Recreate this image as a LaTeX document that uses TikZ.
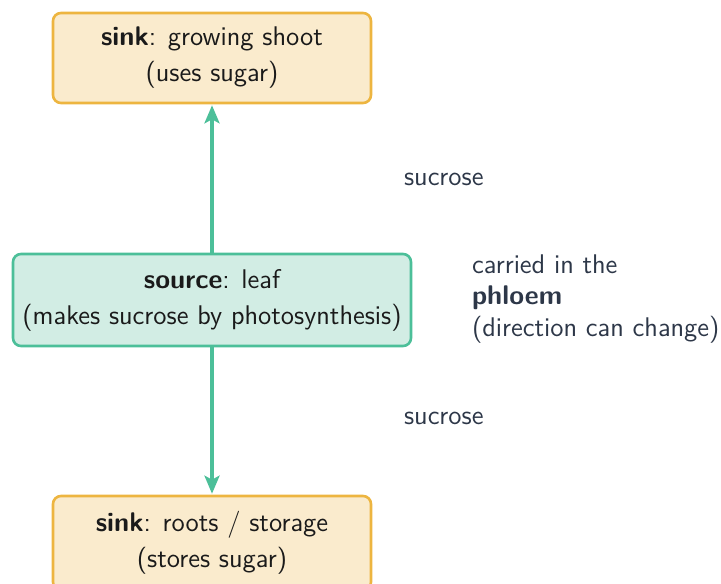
\documentclass[tikz,border=0pt]{standalone}
\usetikzlibrary{arrows.meta}
\definecolor{sinkfill}{HTML}{FAEBCD}
\definecolor{sinkdraw}{HTML}{EDB540}
\definecolor{srcfill}{HTML}{D2EDE4}
\definecolor{srcdraw}{HTML}{4CBF99}
\definecolor{sidetext}{HTML}{2D3748}
\definecolor{boxtext}{HTML}{1A1A1A}
\begin{document}
\begin{tikzpicture}[x=0.5pt,y=-0.5pt,
  font=\sffamily\fontsize{13.5}{15.8}\selectfont,
  box/.style={rectangle, rounded corners=4pt, line width=1.3pt, inner sep=0pt,
    align=center, text=boxtext},
  sinkbox/.style={box, fill=sinkfill, draw=sinkdraw, minimum width=159pt},
  srcbox/.style={box, fill=srcfill, draw=srcdraw, minimum width=199pt, minimum height=46pt},
  flow/.style={draw=srcdraw, line width=2pt, -{Stealth[length=9pt,width=7.5pt,inset=2pt]}},
  side/.style={text=sidetext, align=left, anchor=west}]
\useasboundingbox (0,0) rectangle (721,583);
\clip (0,0) rectangle (721,583);
\node[sinkbox, minimum height=45pt] (top) at (212,58) {\textbf{sink}: growing shoot\\[2.2pt](uses sugar)};
\node[srcbox] (src) at (212,300) {\textbf{source}: leaf\\[2.2pt](makes sucrose by photosynthesis)};
\node[sinkbox, minimum height=47pt] (bot) at (212,543) {\textbf{sink}: roots / storage\\[2.2pt](stores sugar)};
\draw[flow] (src.north) -- ([yshift=-0.5pt]top.south);
\draw[flow] (src.south) -- ([yshift=0.5pt]bot.north);
\node[side] (l1) at (397,179) {sucrose};
\node[side] (l2) at (397,418) {sucrose};
\node[side] (note) at (465,299) {carried in the\\\textbf{phloem}\\(direction can change)};
\end{tikzpicture}
\end{document}
